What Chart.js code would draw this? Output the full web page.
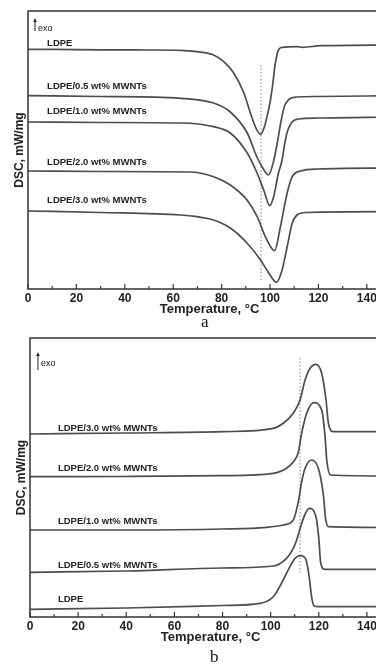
<!DOCTYPE html>
<html>
<head>
<meta charset="utf-8">
<script src="https://cdn.jsdelivr.net/npm/chart.js@4.4.1/dist/chart.umd.min.js"></script>
<style>
  body{margin:0;background:#fff;overflow:hidden;width:376px;height:664px;position:relative}
  .wrap{position:absolute;left:0;width:396px;height:332px}
  .cap{position:absolute;font:17px/17px "Liberation Serif",serif;color:#111}
</style>
</head>
<body>
<div class="wrap" style="top:0"><canvas id="chartA" width="396" height="332"></canvas></div>
<div class="wrap" style="top:332px"><canvas id="chartB" width="396" height="332"></canvas></div>
<div class="cap" style="left:201px;top:313px">a</div>
<div class="cap" style="left:210px;top:648px">b</div>
<script>
const xTicks = [0, 20, 40, 60, 80, 100, 120, 140];
const seriesNames = ['LDPE', 'LDPE/0.5 wt% MWNTs', 'LDPE/1.0 wt% MWNTs', 'LDPE/2.0 wt% MWNTs', 'LDPE/3.0 wt% MWNTs'];

// (a) heating scans, endotherm down
const tempA_LDPE = [0, 30, 50, 63, 69.8, 76.7, 80.9, 85, 89.2, 91.9, 94, 96.1, 97.7, 99.1, 100.2, 101.2, 102, 103.2, 105, 111.2, 113.7, 120.9, 150];
const dscA_LDPE  = [23.97, 23.92, 23.9, 23.87, 23.73, 23.4, 22.73, 21.6, 19.6, 17.6, 16.2, 15.47, 16.23, 17.6, 18.9, 20.6, 22.23, 23.73, 24.17, 24.23, 24.17, 24.33, 24.4];
const tempA_05 = [0, 30, 63, 76.7, 83.6, 90.6, 94.6, 97, 99.4, 101.3, 103, 104.5, 106, 108, 111, 120, 150];
const dscA_05  = [19.33, 19.25, 19.07, 18.6, 17.7, 15.6, 13.2, 12.1, 11.4, 12.6, 14.6, 16.7, 18.3, 19.0, 19.2, 19.25, 19.33];
const tempA_10 = [0, 30, 63, 76.7, 83.6, 90.6, 94.1, 97.4, 99.9, 101.5, 103.5, 105, 106, 107, 109.2, 112, 120, 150];
const dscA_10  = [16.7, 16.65, 16.6, 16.23, 15.6, 13.6, 11.9, 9.9, 8.33, 9.23, 11.6, 12.9, 14.4, 15.6, 16.73, 17.0, 17.1, 17.2];
const tempA_20 = [0, 30, 67, 76.7, 83.6, 90.5, 94.7, 98.1, 101.9, 104.3, 107.1, 109.2, 112.6, 120, 150];
const dscA_20  = [11.8, 11.75, 11.7, 11.23, 10.4, 8.9, 7.23, 5.23, 3.83, 6.23, 9.6, 11.23, 11.8, 12.0, 12.1];
const tempA_30 = [0, 30, 63, 69.8, 76.7, 83.6, 90.5, 96.1, 99.5, 102.7, 105, 107.1, 109.2, 111.2, 115, 150];
const dscA_30  = [7.8, 7.65, 7.4, 7.23, 6.9, 6.1, 4.6, 2.9, 1.6, 0.67, 1.9, 4.23, 6.6, 7.4, 7.65, 7.73];
const peakA = [96.3, 22.4, 0.7];          // dotted line: T, top, bottom
const labelXA = 7.9;
const labelYA = [24.6, 20.3, 17.8, 12.7, 8.9];
const exoA = [2.9, 27.1, 25.8, 26.0];     // arrow x, arrow top, arrow bottom, text y

// (b) cooling scans, exotherm up
const tempB_LDPE = [0, 40, 80, 95.6, 101.1, 105.2, 108, 110.1, 112.6, 114.7, 116, 117, 118, 120, 150];
const dscB_LDPE  = [0.77, 0.9, 1.15, 1.37, 2.03, 3.7, 5.03, 5.87, 6.13, 5.7, 4.03, 2.03, 1.1, 1.03, 1.03];
const tempB_05 = [0, 40, 80, 101, 106.6, 109.4, 110.8, 112.3, 113.6, 116, 118.8, 120, 120.8, 122.6, 150];
const dscB_05  = [4.47, 4.6, 4.9, 5.1, 5.87, 6.87, 7.7, 8.9, 9.87, 10.87, 10.03, 7.87, 5.37, 4.77, 4.77];
const tempB_10 = [0, 40, 80, 98.3, 105.2, 109.4, 111.5, 112.9, 114.3, 117, 119.8, 121.9, 122.8, 124, 150];
const dscB_10  = [8.7, 8.7, 8.8, 8.97, 9.2, 9.7, 11.53, 13.53, 14.87, 15.7, 14.87, 12.2, 9.87, 9.03, 8.95];
const tempB_20 = [0, 40, 80, 101, 106.6, 110, 111.4, 112.9, 115, 118, 121.2, 122.6, 123.3, 124.9, 150];
const dscB_20  = [14.03, 14.05, 14.13, 14.37, 14.87, 15.7, 16.4, 18.4, 20.4, 21.43, 20.7, 18.03, 15.7, 14.2, 14.1];
const tempB_30 = [0, 40, 80, 101.1, 105.2, 109.4, 112.2, 114.3, 116.4, 118.8, 121.2, 123, 124, 126.1, 150];
const dscB_30  = [18.3, 18.4, 18.53, 18.87, 19.37, 20.37, 21.7, 23.7, 24.87, 25.27, 24.37, 21.7, 19.37, 18.53, 18.53];
const peakB = [112.2, 25.9, 4.4];
const labelXB = 11.6;
const labelYB = [1.77, 5.2, 9.6, 14.9, 18.9];
const exoB = [3.3, 26.5, 24.7, 25.3];

const LINE = '#4d4d4d';
const TXT = '#222';
const sans = '"Liberation Sans", Arial, sans-serif';

function pts(xs, ys) { return xs.map((x, i) => ({x: x, y: ys[i]})); }

function curve(xs, ys) {
  return {data: pts(xs, ys), borderColor: LINE, borderWidth: 1.7, pointRadius: 0,
          cubicInterpolationMode: 'monotone', fill: false};
}

// frame, inward ticks, curve labels and the exo arrow
const decor = {
  id: 'decor',
  afterDatasetsDraw(chart, args, o) {
    const ctx = chart.ctx, a = chart.chartArea;
    const xs = chart.scales.x, ys = chart.scales.y;
    ctx.save();
    ctx.strokeStyle = '#333';
    ctx.lineWidth = 1.5;
    ctx.strokeRect(a.left, a.top, a.right - a.left, a.bottom - a.top);
    ctx.lineWidth = 1.2;
    for (let t = 0; t <= 150; t += 10) {
      const px = xs.getPixelForValue(t);
      const len = t % 20 === 0 ? 5 : 3;
      ctx.beginPath();
      ctx.moveTo(px, a.bottom);
      ctx.lineTo(px, a.bottom - len);
      ctx.stroke();
    }
    ctx.fillStyle = TXT;
    ctx.font = 'bold 9.5px ' + sans;
    ctx.textBaseline = 'middle';
    o.labelY.forEach((v, i) => {
      ctx.fillText(seriesNames[i], xs.getPixelForValue(o.labelX), ys.getPixelForValue(v));
    });
    // exo arrow
    const ax = xs.getPixelForValue(o.exo[0]);
    const top = ys.getPixelForValue(o.exo[1]), bot = ys.getPixelForValue(o.exo[2]);
    ctx.strokeStyle = '#222';
    ctx.lineWidth = 1;
    ctx.beginPath(); ctx.moveTo(ax, bot); ctx.lineTo(ax, top + 2); ctx.stroke();
    ctx.beginPath(); ctx.moveTo(ax, top); ctx.lineTo(ax - 1.8, top + 4); ctx.lineTo(ax + 1.8, top + 4); ctx.closePath(); ctx.fill();
    ctx.font = '9px ' + sans;
    ctx.fillText('exo', ax + 3, ys.getPixelForValue(o.exo[3]));
    ctx.restore();
  }
};

function makeChart(id, sets, peak, ymax, cfg) {
  const datasets = sets.map(s => curve(s[0], s[1]));
  datasets.push({data: [{x: peak[0], y: peak[1]}, {x: peak[0], y: peak[2]}], borderColor: '#9a9a9a',
                 borderWidth: 1.2, borderDash: [1.5, 2], pointRadius: 0, fill: false});
  return new Chart(document.getElementById(id), {
    type: 'line',
    data: {datasets: datasets},
    options: {
      responsive: false,
      animation: false,
      layout: {padding: {left: 0, right: 5, top: cfg.top, bottom: 0}},
      plugins: {legend: {display: false}, tooltip: {enabled: false},
                decor: {labelX: cfg.labelX, labelY: cfg.labelY, exo: cfg.exo}},
      scales: {
        x: {
          type: 'linear', min: 0, max: 150,
          afterBuildTicks: s => { s.ticks = xTicks.map(v => ({value: v})); },
          afterFit: s => { s.height = cfg.xh; },
          grid: {display: false, drawTicks: false},
          border: {display: false},
          ticks: {color: TXT, font: {family: sans, size: 12, weight: 'bold'}, padding: 2, maxRotation: 0},
          title: {display: true, text: 'Temperature, °C', color: TXT,
                  font: {family: sans, size: 13, weight: 'bold'}, padding: {top: 0, bottom: cfg.xtp}}
        },
        y: {
          min: 0, max: ymax,
          afterFit: s => { s.width = cfg.yw; },
          grid: {display: false, drawTicks: false},
          border: {display: false},
          ticks: {display: false},
          title: {display: true, text: 'DSC, mW/mg', color: TXT,
                  font: {family: sans, size: 12, weight: 'bold'}, padding: {top: cfg.ytp, bottom: 0}}
        }
      }
    },
    plugins: [decor]
  });
}

makeChart('chartA',
  [[tempA_LDPE, dscA_LDPE], [tempA_05, dscA_05], [tempA_10, dscA_10], [tempA_20, dscA_20], [tempA_30, dscA_30]],
  peakA, 27.8,
  {top: 11, xh: 43, yw: 28, xtp: 15.2, ytp: 12.8, labelX: labelXA, labelY: labelYA, exo: exoA});

makeChart('chartB',
  [[tempB_LDPE, dscB_LDPE], [tempB_05, dscB_05], [tempB_10, dscB_10], [tempB_20, dscB_20], [tempB_30, dscB_30]],
  peakB, 27.9,
  {top: 6, xh: 47, yw: 30, xtp: 19.2, ytp: 14.5, labelX: labelXB, labelY: labelYB, exo: exoB});
</script>
</body>
</html>
